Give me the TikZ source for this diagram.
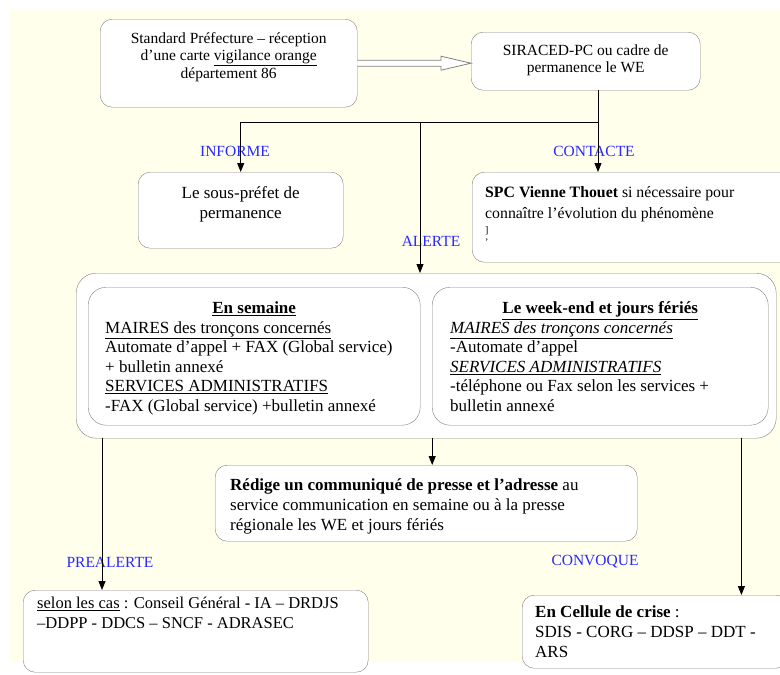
\documentclass[tikz,border=0pt]{standalone}
\usepackage{fontspec}
\setmainfont{Liberation Serif}
\usepackage{tikz}
\usetikzlibrary{arrows.meta,positioning,calc}

\definecolor{fond}{RGB}{255,255,236}
\definecolor{bordure}{RGB}{128,128,128}
\definecolor{etiq}{RGB}{40,40,255}

\begin{document}
\begin{tikzpicture}[
  x=1pt, y=-1pt,
  boite/.style={draw=bordure, fill=white, rounded corners=12pt, inner ysep=0pt, inner xsep=13pt, anchor=north west, font={\fontsize{17}{20}\selectfont}},
  petit/.style={font={\fontsize{15.5}{17.5}\selectfont}},
  serre/.style={font={\fontsize{17}{19.5}\selectfont}},
  etiquette/.style={text=etiq, inner sep=0pt, font={\fontsize{15.5}{17.5}\selectfont}},
  fleche/.style={-{Triangle[length=9pt,width=7pt]}, line width=0.9pt}
]
  \clip (0,0) rectangle (780,675);
  \fill[fond] (10,9) rectangle (780,662);

  % haut
  \node[boite, petit] (pref) at (100,19) {\parbox[t][88pt][t]{231pt}{\centering\vspace*{12pt}\strut Standard Préfecture – réception\\ d’une carte \underline{vigilance orange}\\ département 86}};
  \node[boite, petit] (sir) at (471,32) {\parbox[t][58pt][t]{203pt}{\centering\vspace*{11pt}\strut SIRACED-PC ou cadre de\\ permanence le WE}};
  \node[boite] (sous) at (138,172) {\parbox[t][76pt][t]{179pt}{\centering\vspace*{12pt}\strut Le sous-préfet de\\ permanence}};
  \node[boite, font={\fontsize{15.8}{20.5}\selectfont}] (spc) at (472,172) {\parbox[t][90pt][t]{300pt}{\raggedright\vspace*{11pt}\strut\textbf{SPC Vienne Thouet} si nécessaire pour\\ connaître l’évolution du phénomène\\[-5pt]
    {\fontsize{10}{12}\selectfont ]}\\[-9pt] {\fontsize{10}{12}\selectfont ’}}};

  % alerte des maires et services
  \node[boite, rounded corners=20pt, inner sep=0pt, minimum width=700pt, minimum height=165pt] (diffusion) at (76,273) {};
  \node[boite, serre, rounded corners=18pt, inner xsep=17pt] (semaine) at (88,287) {\parbox[t][138pt][t]{298pt}{\vspace*{13pt}{\centering\strut\textbf{\underline{En semaine}}\par}\raggedright
    \underline{MAIRES des tronçons concernés}\\ Automate d’appel + FAX (Global service)\\ + bulletin annexé\\ \underline{SERVICES ADMINISTRATIFS}\\ -FAX (Global service) +bulletin annexé}};
  \node[boite, serre, rounded corners=18pt, inner xsep=18pt] (weekend) at (432,287) {\parbox[t][138pt][t]{300pt}{\vspace*{13pt}{\centering\strut\textbf{\underline{Le week-end et jours fériés}}\par}\raggedright
    \underline{\textit{MAIRES des tronçons concernés}}\\ -Automate d’appel\\ \underline{\textit{SERVICES ADMINISTRATIFS}}\\ -téléphone ou Fax selon les services +\\ bulletin annexé}};

  % bas
  \node[boite, inner xsep=15pt] (redige) at (215,465) {\parbox[t][76pt][t]{392pt}{\raggedright\vspace*{11pt}\strut\textbf{Rédige un communiqué de presse et l’adresse} au\\ service communication en semaine ou à la presse\\ régionale les WE et jours fériés}};
  \node[boite, inner xsep=14pt, font={\fontsize{16.5}{19.5}\selectfont}] (selon) at (23,590) {\parbox[t][82pt][t]{317pt}{\raggedright\vspace*{5pt}\strut\underline{selon les cas} : Conseil Général - IA – DRDJS\\ –DDPP - DDCS – SNCF - ADRASEC}};
  \node[boite] (cellule) at (522,595) {\parbox[t][73pt][t]{240pt}{\raggedright\vspace*{8pt}\strut\textbf{En Cellule de crise} :\\ SDIS - CORG – DDSP – DDT -\\ ARS}};

  % etiquettes
  \node[etiquette] (informe) at (235,151) {INFORME};
  \node[etiquette] (contacte) at (594,151) {CONTACTE};
  \node[etiquette] (alerte) at (431,241) {ALERTE};
  \node[etiquette] (prealerte) at (110,562) {PREALERTE};
  \node[etiquette] (convoque) at (595,562) {CONVOQUE};

  % liaisons
  \draw[bordure, fill=white, line width=0.8pt] let \p1=(pref.east), \p2=(sir.west) in
    (\x1,\y1-3) -- (\x2-30,\y1-3) -- (\x2-30,\y1-7) -- (\x2,\y1) -- (\x2-30,\y1+7) -- (\x2-30,\y1+3) -- (\x1,\y1+3);
  \coordinate (noeud-c) at (598,122);
  \coordinate (noeud-a) at (420,122);
  \draw[fleche] (sir.south -| noeud-c) -- (spc.north -| noeud-c);
  \draw[fleche] (noeud-c) -| (sous.north);
  \draw[fleche] (noeud-a) -- (diffusion.north -| noeud-a);
  \coordinate (pied-g) at ($(diffusion.south west)+(26,0)$);
  \coordinate (pied-d) at ($(diffusion.south east)+(-35,0)$);
  \draw[fleche] ([xshift=6pt]diffusion.south) -- ([xshift=6pt]redige.north);
  \draw[fleche] (pied-g) -- (pied-g |- selon.north);
  \draw[fleche] (pied-d) -- (pied-d |- cellule.north);
\end{tikzpicture}
\end{document}
